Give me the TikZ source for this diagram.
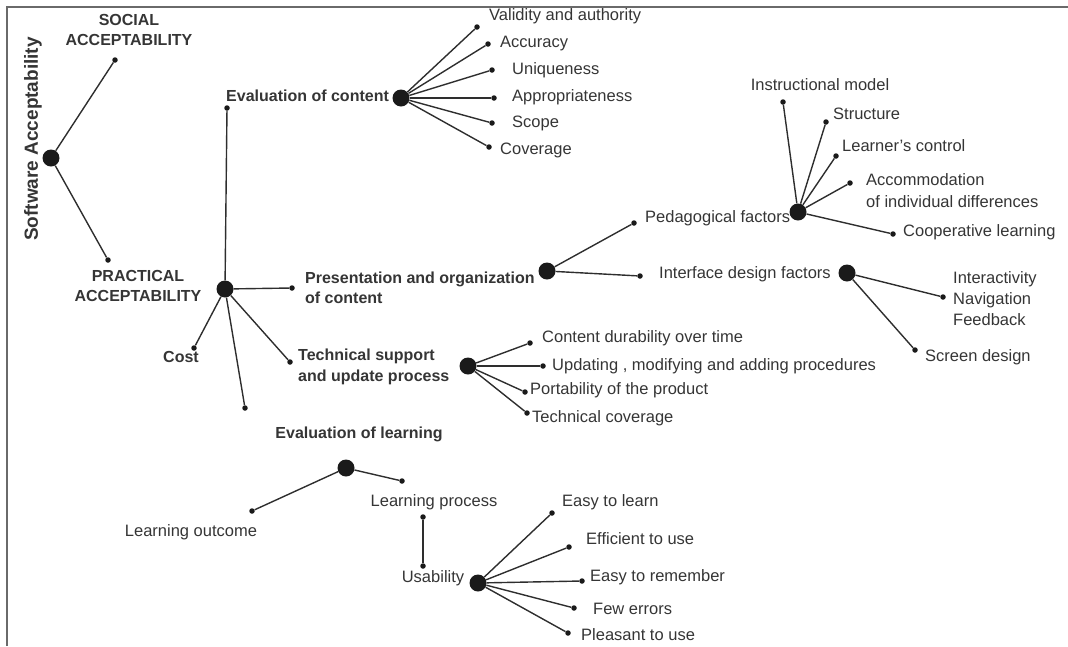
\documentclass[tikz,border=0pt]{standalone}
\usepackage{fontspec}
\setmainfont{Liberation Sans}
\definecolor{linec}{HTML}{2E2E2E}
\definecolor{dotc}{HTML}{1A1A1A}
\definecolor{txtc}{HTML}{353535}
\definecolor{framec}{HTML}{6A6A6A}
\begin{document}
\begin{tikzpicture}[x=1pt,y=-1pt,
  hub/.style={circle,fill=dotc,inner sep=0pt,minimum size=17pt},
  pt/.style={circle,fill=dotc,inner sep=0pt,minimum size=5.5pt},
  mlbl/.style={text=txtc,inner sep=0pt,font=\fontsize{16.5}{20.5}\selectfont},
  lbl/.style={mlbl,text height=12pt,text depth=3.5pt},
  mblbl/.style={mlbl,font=\bfseries\fontsize{16}{20.5}\selectfont},
  blbl/.style={lbl,font=\bfseries\fontsize{16}{20}\selectfont},
  edge/.style={draw=linec,line width=1.4pt}]
\useasboundingbox (0,0) rectangle (1068,646);
\draw[framec,line width=1.6pt] (7,646) -- (7,7) -- (1068,7);

% root
\node[hub] (root) at (51,158) {};
\node[text=txtc,inner sep=0pt,rotate=90,font=\bfseries\fontsize{19}{22}\selectfont] (title) at (33,139) {Software Acceptability};
\node[pt] (soc) at (115,60) {};
\node[mblbl,align=center] (socL) at (129,30) {SOCIAL\\ACCEPTABILITY};
\node[pt] (prac) at (108,260) {};
\node[mblbl,align=center] (pracL) at (138,286) {PRACTICAL\\ACCEPTABILITY};
\draw[edge] (root) -- (soc);
\draw[edge] (root) -- (prac);

% practical hub
\node[hub] (ph) at (225,289) {};
\node[pt] (ecDot) at (227,108) {};
\node[blbl,anchor=west] (ecL) at (226,97) {Evaluation of content};
\node[pt] (presDot) at (292,288) {};
\node[mblbl,anchor=west,align=left] (presL) at (305,288) {Presentation and organization\\of content};
\node[pt] (costDot) at (194,348) {};
\node[blbl] (costL) at (181,358) {Cost};
\node[pt] (learnDot) at (245,408) {};
\node[pt] (techDot) at (290,362) {};
\node[mblbl,anchor=west,align=left] (techL) at (298,367) {Technical support\\and update process};
\foreach \n in {ecDot,presDot,costDot,learnDot,techDot} \draw[edge] (ph) -- (\n);

% evaluation of content
\node[hub] (ec) at (401,98) {};
\node[pt] (ec1) at (477,27) {};
\node[pt] (ec2) at (488,44) {};
\node[pt] (ec3) at (492,70) {};
\node[pt] (ec4) at (494,98) {};
\node[pt] (ec5) at (492,123) {};
\node[pt] (ec6) at (489,147) {};
\node[lbl,anchor=west] (ec1L) at (489,16) {Validity and authority};
\node[lbl,anchor=west] (ec2L) at (500,43) {Accuracy};
\node[lbl,anchor=west] (ec3L) at (512,70) {Uniqueness};
\node[lbl,anchor=west] (ec4L) at (512,97) {Appropriateness};
\node[lbl,anchor=west] (ec5L) at (512,123) {Scope};
\node[lbl,anchor=west] (ec6L) at (500,150) {Coverage};
\foreach \n in {ec1,ec2,ec3,ec4,ec5,ec6} \draw[edge] (ec) -- (\n);

% presentation
\node[hub] (pres) at (547,271) {};
\node[pt] (pedDot) at (634,223) {};
\node[lbl,anchor=west] (pedL) at (645,218) {Pedagogical factors};
\node[pt] (ifDot) at (640,276) {};
\node[lbl,anchor=west] (ifL) at (659,274) {Interface design factors};
\draw[edge] (pres) -- (pedDot);
\draw[edge] (pres) -- (ifDot);

% pedagogical
\node[hub] (ped) at (798,212) {};
\node[pt] (pd1) at (783,102) {};
\node[pt] (pd2) at (826,122) {};
\node[pt] (pd3) at (836,156) {};
\node[pt] (pd4) at (850,183) {};
\node[pt] (pd5) at (893,234) {};
\node[lbl] (pd1L) at (820,86) {Instructional model};
\node[lbl,anchor=west] (pd2L) at (833,115) {Structure};
\node[lbl,anchor=west] (pd3L) at (842,147) {Learner's control};
\node[mlbl,anchor=west,align=left,font=\fontsize{16.5}{22}\selectfont] (pd4L) at (866,191) {Accommodation\\of individual differences};
\node[lbl,anchor=west] (pd5L) at (903,232) {Cooperative learning};
\foreach \n in {pd1,pd2,pd3,pd4,pd5} \draw[edge] (ped) -- (\n);

% interface
\node[hub] (ifh) at (847,273) {};
\node[pt] (if1) at (943,297) {};
\node[pt] (if2) at (915,350) {};
\node[mlbl,anchor=west,align=left,font=\fontsize{16.5}{21}\selectfont] (if1L) at (953,299) {Interactivity\\Navigation\\Feedback};
\node[lbl,anchor=west] (if2L) at (925,357) {Screen design};
\draw[edge] (ifh) -- (if1);
\draw[edge] (ifh) -- (if2);

% technical
\node[hub] (tech) at (468,366) {};
\node[pt] (tc1) at (530,343) {};
\node[pt] (tc2) at (543,366) {};
\node[pt] (tc3) at (525,392) {};
\node[pt] (tc4) at (527,413) {};
\node[lbl,anchor=west] (tc1L) at (542,338) {Content durability over time};
\node[lbl,anchor=west] (tc2L) at (552,366) {Updating , modifying and adding procedures};
\node[lbl,anchor=west] (tc3L) at (530,390) {Portability of the product};
\node[lbl,anchor=west] (tc4L) at (532,418) {Technical coverage};
\foreach \n in {tc1,tc2,tc3,tc4} \draw[edge] (tech) -- (\n);

% evaluation of learning
\node[blbl] (elL) at (359,434) {Evaluation of learning};
\node[hub] (el) at (346,468) {};
\node[pt] (loDot) at (252,511) {};
\node[lbl] (loL) at (191,532) {Learning outcome};
\node[pt] (lpDot) at (402,481) {};
\node[lbl] (lpL) at (434,502) {Learning process};
\draw[edge] (el) -- (loDot);
\draw[edge] (el) -- (lpDot);
\node[pt] (lp2) at (423,517) {};
\node[pt] (us2) at (423,566) {};
\draw[edge,line width=2.2pt] (lp2) -- (us2);
\node[lbl] (usL) at (433,578) {Usability};

% usability
\node[hub] (us) at (478,583) {};
\node[pt] (u1) at (552,513) {};
\node[pt] (u2) at (569,547) {};
\node[pt] (u3) at (582,581) {};
\node[pt] (u4) at (574,608) {};
\node[pt] (u5) at (568,633) {};
\node[lbl,anchor=west] (u1L) at (562,502) {Easy to learn};
\node[lbl,anchor=west] (u2L) at (586,540) {Efficient to use};
\node[lbl,anchor=west] (u3L) at (590,577) {Easy to remember};
\node[lbl,anchor=west] (u4L) at (593,610) {Few errors};
\node[lbl,anchor=west] (u5L) at (581,636) {Pleasant to use};
\foreach \n in {u1,u2,u3,u4,u5} \draw[edge] (us) -- (\n);
\end{tikzpicture}
\end{document}
